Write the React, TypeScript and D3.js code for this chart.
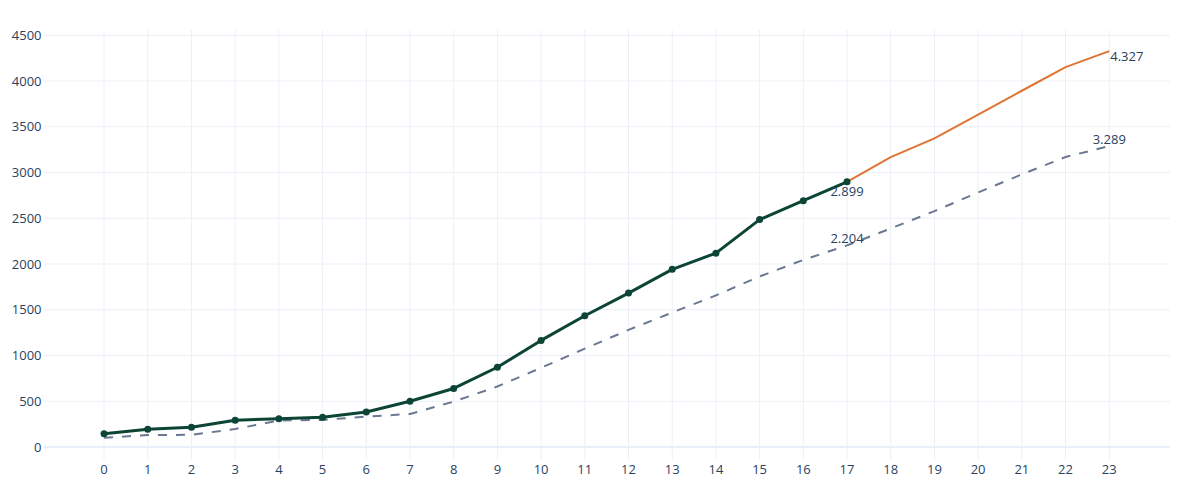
import React from 'react';
import * as d3 from 'd3';

// x categories (day index)
const days = d3.range(0, 24);

// actual values, days 0..17
const actual = [146, 193, 215, 292, 310, 325, 383, 500, 640, 872, 1165, 1435, 1682, 1942, 2119, 2486, 2692, 2899];
// forecast values, days 17..23
const forecast = [2899, 3168, 3374, 3632, 3894, 4152, 4327];
const forecastStart = 17;
// reference (dashed) values, days 0..23
const reference = [100, 131, 133, 197, 290, 296, 332, 361, 496, 661, 866, 1075, 1280, 1470, 1657, 1864, 2045, 2204, 2389, 2578, 2782, 2980, 3170, 3289];

const yTicks = [0, 500, 1000, 1500, 2000, 2500, 3000, 3500, 4000, 4500];

// labels shown on the chart
const labels = [
  { series: 'actual', day: 17, text: '2.899', pos: 'bottom' },
  { series: 'reference', day: 17, text: '2.204', pos: 'top' },
  { series: 'forecast', day: 23, text: '4.327', pos: 'right' },
  { series: 'reference', day: 23, text: '3.289', pos: 'top' },
];

const W = 1200;
const H = 500;
const FONT = '"Open Sans", "DejaVu Sans", sans-serif';
const TEXT = '#2a3f5f';
const GRID = '#EBF0F8';

const App = () => {
  const x = d3.scaleLinear().domain([-1.39, 24.39]).range([43.3, 1170]);
  const y = d3.scaleLinear().domain([-142, 4558]).range([460, 30]);

  const line = d3
    .line<[number, number]>()
    .x((d) => x(d[0]))
    .y((d) => y(d[1]));

  const actualPts: [number, number][] = actual.map((v, i) => [i, v]);
  const forecastPts: [number, number][] = forecast.map((v, i) => [forecastStart + i, v]);
  const refPts: [number, number][] = reference.map((v, i) => [i, v]);

  const valueOf = (series: string, day: number) => {
    if (series === 'actual') return actual[day];
    if (series === 'forecast') return forecast[day - forecastStart];
    return reference[day];
  };

  const [x0, x1] = x.range();
  const [y0, y1] = y.range();

  return (
    <svg
      width={W}
      height={H}
      style={{ position: 'absolute', left: 0, top: 0, background: '#fff' }}
      fontFamily={FONT}
    >
      {/* grid */}
      <g>
        {days.map((d) => (
          <line key={'vx' + d} x1={x(d)} x2={x(d)} y1={y1} y2={y0} stroke={GRID} strokeWidth={1} />
        ))}
        {yTicks.map((t) => (
          <line
            key={'hy' + t}
            x1={x0}
            x2={x1}
            y1={y(t)}
            y2={y(t)}
            stroke={GRID}
            strokeWidth={t === 0 ? 2 : 1}
          />
        ))}
      </g>

      {/* axis labels */}
      <g fontSize={13} fill={TEXT}>
        {yTicks.map((t) => (
          <text key={'ty' + t} x={41.5} y={y(t) + 4.6} textAnchor="end">
            {t}
          </text>
        ))}
        {days.map((d) => (
          <text key={'tx' + d} x={x(d)} y={473.6} textAnchor="middle">
            {d}
          </text>
        ))}
      </g>

      {/* reference dashed line */}
      <path d={line(refPts) || ''} fill="none" stroke="#6b7891" strokeWidth={2} strokeDasharray="9,9" />

      {/* forecast line */}
      <path d={line(forecastPts) || ''} fill="none" stroke="#e07433" strokeWidth={2} />

      {/* actual line with markers */}
      <path d={line(actualPts) || ''} fill="none" stroke="#0c4535" strokeWidth={3} strokeLinejoin="round" />
      {actualPts.map((p) => (
        <circle key={'m' + p[0]} cx={x(p[0])} cy={y(p[1])} r={3.5} fill="#0c4535" />
      ))}

      {/* value labels */}
      <g fontSize={13} fill={TEXT}>
        {labels.map((l, i) => {
          const px = x(l.day);
          const py = y(valueOf(l.series, l.day));
          if (l.pos === 'bottom')
            return (
              <text key={i} x={px} y={py + 14.5} textAnchor="middle">
                {l.text}
              </text>
            );
          if (l.pos === 'right')
            return (
              <text key={i} x={px + 1} y={py + 9.5} textAnchor="start">
                {l.text}
              </text>
            );
          return (
            <text key={i} x={px} y={py - 2.5} textAnchor="middle">
              {l.text}
            </text>
          );
        })}
      </g>
    </svg>
  );
};

export default App;
